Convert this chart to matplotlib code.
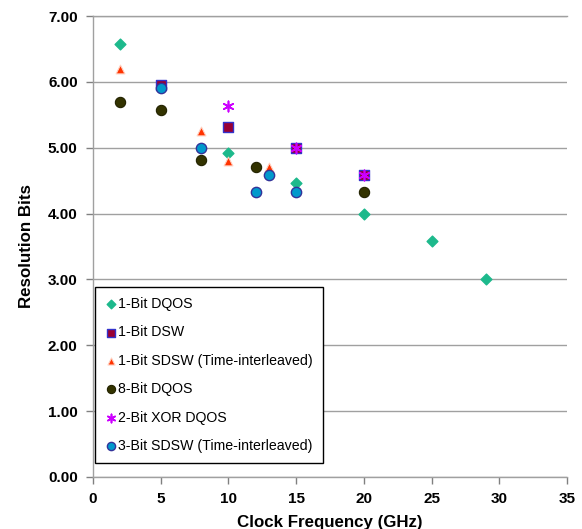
import matplotlib
matplotlib.use("Agg")
import matplotlib.pyplot as plt

plt.rcParams['font.family'] = ['Liberation Sans', 'DejaVu Sans']

dqos1_x = [2, 10, 15, 20, 25, 29]
dqos1_y = [6.58, 4.92, 4.46, 4.00, 3.58, 3.00]
dsw1_x = [5, 10, 15, 20]
dsw1_y = [5.95, 5.32, 5.00, 4.58]
sdsw1_x = [2, 8, 10, 13]
sdsw1_y = [6.20, 5.25, 4.80, 4.70]
dqos8_x = [2, 5, 8, 12, 20]
dqos8_y = [5.70, 5.58, 4.81, 4.70, 4.32]
xor2_x = [10, 15, 20]
xor2_y = [5.64, 5.00, 4.58]
sdsw3_x = [5, 8, 12, 13, 15]
sdsw3_y = [5.90, 5.00, 4.32, 4.58, 4.32]

labels = ['1-Bit DQOS', '1-Bit DSW', '1-Bit SDSW (Time-interleaved)',
          '8-Bit DQOS', '2-Bit XOR DQOS', '3-Bit SDSW (Time-interleaved)']
yticks = [0, 1, 2, 3, 4, 5, 6, 7]
xticks = [0, 5, 10, 15, 20, 25, 30, 35]

fig = plt.figure(figsize=(5.82, 5.29), dpi=100)
ax = fig.add_axes([93/582, 1-477/529, (567-93)/582, (477-16)/529])

ax.scatter(dqos1_x, dqos1_y, marker='D', s=30, color='#1DB98C', edgecolors='#1DB98C', label=labels[0], zorder=3)
ax.scatter(dsw1_x, dsw1_y, marker='s', s=55, color='#990033', edgecolors='#3333CC', linewidths=1, label=labels[1], zorder=3)
ax.scatter(sdsw1_x, sdsw1_y, marker='^', s=40, color='#FF3300', edgecolors='#FFD0C0', linewidths=0.8, label=labels[2], zorder=3)
ax.scatter(dqos8_x, dqos8_y, marker='o', s=55, color='#333300', edgecolors='#222200', linewidths=0.8, label=labels[3], zorder=3)
ax.scatter(xor2_x, xor2_y, marker=(6, 2, 0), s=55, color='#CC00FF', linewidths=1.2, label=labels[4], zorder=4)
ax.scatter(sdsw3_x, sdsw3_y, marker='o', s=55, color='#0099CC', edgecolors='#333399', linewidths=1, label=labels[5], zorder=3)

ax.set_xlim(0, 35)
ax.set_ylim(0, 7)
ax.set_xticks(xticks)
ax.set_yticks(yticks)
ax.set_yticklabels([f'{v:.2f}' for v in yticks], fontsize=11, fontweight='bold')
ax.set_xticklabels([str(v) for v in xticks], fontsize=11, fontweight='bold')
ax.grid(axis='y', color='#A0A0A0', linewidth=1)
ax.set_axisbelow(True)
ax.spines['right'].set_visible(False)
for s in ['left', 'bottom', 'top']:
    ax.spines[s].set_color('#A0A0A0')
    ax.spines[s].set_linewidth(1)
ax.tick_params(axis='both', direction='out', length=5, color='#808080', width=1, pad=6)

ax.set_xlabel('Clock Frequency (GHz)', fontsize=12.2, fontweight='bold', labelpad=6)
ax.set_ylabel('Resolution Bits', fontsize=12.2, fontweight='bold', labelpad=10)

leg = ax.legend(loc='lower left', bbox_to_anchor=(2/474, 14/461), fontsize=10.2,
                frameon=True, fancybox=False, edgecolor='black', framealpha=1,
                handletextpad=0.05, handlelength=0.9, labelspacing=1.02,
                borderpad=0.7, borderaxespad=0, markerscale=0.8)
leg.get_frame().set_linewidth(1)

fig.savefig('out.png', dpi=100)
